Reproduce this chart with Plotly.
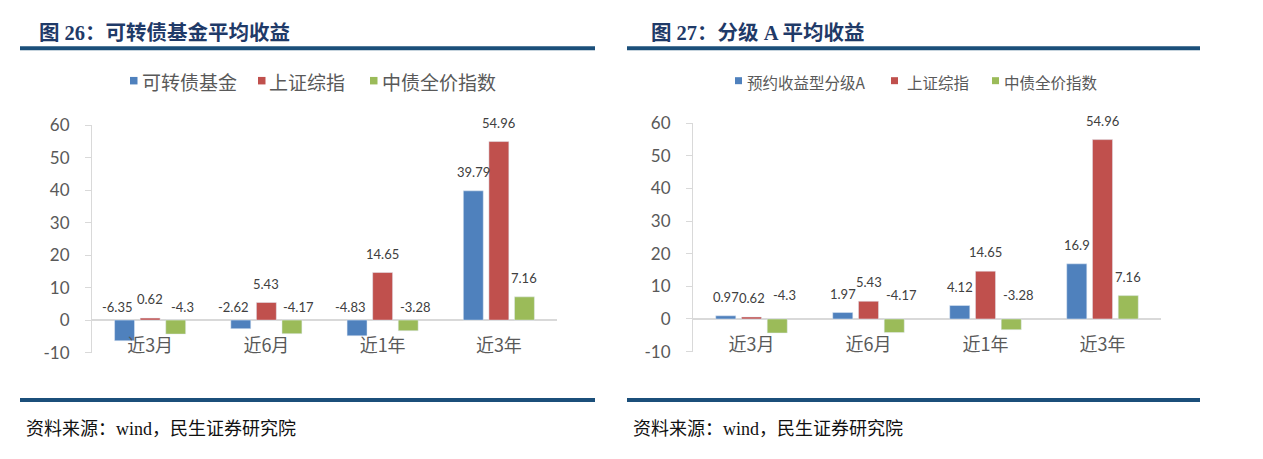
import plotly.graph_objects as go

W, H = 1263, 459

categories = ["近3月", "近6月", "近1年", "近3年"]

# Chart 26
left_series_names = ["可转债基金", "上证综指", "中债全价指数"]
left_convertible = [-6.35, -2.62, -4.83, 39.79]
left_shanghai = [0.62, 5.43, 14.65, 54.96]
left_bond = [-4.3, -4.17, -3.28, 7.16]

# Chart 27
right_series_names = ["预约收益型分级A", "上证综指", "中债全价指数"]
right_gradeA = [0.97, 1.97, 4.12, 16.9]
right_shanghai = [0.62, 5.43, 14.65, 54.96]
right_bond = [-4.3, -4.17, -3.28, 7.16]

y_ticks = [-10, 0, 10, 20, 30, 40, 50, 60]
y_tick_labels = ["-10", "0", "10", "20", "30", "40", "50", "60"]

colors = ["#4F81BD", "#C0504D", "#9BBB59"]
NAVY = "#1B4F7A"
TITLE_C = "#1F3A68"
GRAY_TXT = "#595959"
LBL_TXT = "#404040"
AX_C = "#D9D9D9"

BARGAP = 0.34
BARGROUPGAP = 0.22

# screenshot vertical mapping compensation
SY, OY = 0.9545, 10.3

def px_x(p):
    return p / W

def px_y(p):
    return 1 - ((p - OY) / SY) / H

left_dom = [px_x(92), px_x(557)]
right_dom = [px_x(693), px_x(1161)]
left_ydom = [px_y(352), px_y(124.5)]
right_ydom = [px_y(351), px_y(122.5)]

fig = go.Figure()

left_vals = [left_convertible, left_shanghai, left_bond]
right_vals = [right_gradeA, right_shanghai, right_bond]

for i, (name, vals) in enumerate(zip(left_series_names, left_vals)):
    fig.add_trace(go.Bar(x=categories, y=vals, name=name, marker_color=colors[i],
                         xaxis="x", yaxis="y", showlegend=False))
for i, (name, vals) in enumerate(zip(right_series_names, right_vals)):
    fig.add_trace(go.Bar(x=categories, y=vals, name=name, marker_color=colors[i],
                         xaxis="x2", yaxis="y2", showlegend=False))

annotations = []
shapes = []

def add_labels(series, xref, yref, dom, neg_shift):
    cat_px = (dom[1] - dom[0]) * W / len(categories)
    slot = cat_px * (1 - BARGAP) / 3
    for i, vals in enumerate(series):
        for c, v in zip(categories, vals):
            dx = (i - 1) * slot + ((i - 1) * 7 if v < 0 else 0)
            annotations.append(dict(
                x=c, y=max(v, 0), xref=xref, yref=yref,
                xshift=dx, yshift=(18 if v > 0 else neg_shift) / SY,
                text=f"{v:g}", showarrow=False, yanchor="middle",
                font=dict(family="Lato, Liberation Sans, sans-serif", size=13, color=LBL_TXT)))

add_labels(left_vals, "x", "y", left_dom, 13)
add_labels(right_vals, "x2", "y2", right_dom, 23)

# Legends (square swatch + text), drawn from the series names
def add_legend(names, sq_x, txt_x, yc, size, sq):
    for i, name in enumerate(names):
        shapes.append(dict(type="rect", xref="paper", yref="paper",
                           x0=px_x(sq_x[i]), x1=px_x(sq_x[i] + sq),
                           y0=px_y(yc + sq / 2), y1=px_y(yc - sq / 2),
                           fillcolor=colors[i], line=dict(width=0)))
        annotations.append(dict(x=px_x(txt_x[i]), y=px_y(yc + 1), xref="paper", yref="paper",
                                xanchor="left", yanchor="middle", showarrow=False, text=name,
                                font=dict(family="Noto Sans CJK SC", size=size, color=GRAY_TXT)))

add_legend(left_series_names, [130, 258, 370], [140, 267, 380], 80, 19, 7.5)
add_legend(right_series_names, [735, 891, 992], [745, 905, 1002], 80, 15.5, 7)

# Titles
serif = "Liberation Serif, Noto Sans CJK SC"
annotations.append(dict(x=px_x(37), y=px_y(32), xref="paper", yref="paper", xanchor="left",
                        yanchor="middle", showarrow=False, text="<b>图 26：可转债基金平均收益</b>",
                        font=dict(family=serif, size=20.5, color=TITLE_C)))
annotations.append(dict(x=px_x(649), y=px_y(32), xref="paper", yref="paper", xanchor="left",
                        yanchor="middle", showarrow=False, text="<b>图 27：分级 A 平均收益</b>",
                        font=dict(family=serif, size=20.5, color=TITLE_C)))
# Sources
for x0 in (24, 631):
    annotations.append(dict(x=px_x(x0), y=px_y(428), xref="paper", yref="paper", xanchor="left",
                            yanchor="middle", showarrow=False, text="资料来源：wind，民生证券研究院",
                            font=dict(family=serif, size=18, color="#111111")))

for (x0, x1) in ((20, 595), (627, 1200)):
    for yy in (47.5, 399.5):
        shapes.append(dict(type="line", xref="paper", yref="paper",
                           x0=px_x(x0), x1=px_x(x1), y0=px_y(yy), y1=px_y(yy),
                           line=dict(color=NAVY, width=4)))

def yaxis_cfg(dom, anchor):
    return dict(domain=dom, anchor=anchor, range=[-10, 60], tickvals=y_ticks,
                ticktext=y_tick_labels,
                showgrid=False, showline=True, linecolor=AX_C, linewidth=1,
                ticks="outside", ticklen=6, tickcolor=AX_C,
                zeroline=True, zerolinecolor=AX_C, zerolinewidth=2,
                tickfont=dict(family="Lato, Liberation Sans, sans-serif", size=17, color=GRAY_TXT),
                ticklabelstandoff=12, fixedrange=True)

zero_left = left_ydom[0] + (left_ydom[1] - left_ydom[0]) * (10 / 70)
zero_right = right_ydom[0] + (right_ydom[1] - right_ydom[0]) * (10 / 70)

def xaxis_cfg(dom, pos):
    return dict(domain=dom, anchor="free", position=pos, showline=False, ticks="",
                showgrid=False, zeroline=False,
                tickfont=dict(family="Noto Sans CJK SC", size=18, color=GRAY_TXT),
                ticklabelstandoff=13, fixedrange=True)

fig.update_layout(
    width=W, height=H, margin=dict(l=0, r=0, t=0, b=0),
    paper_bgcolor="white", plot_bgcolor="rgba(0,0,0,0)",
    barmode="group", bargap=BARGAP, bargroupgap=BARGROUPGAP,
    xaxis=xaxis_cfg(left_dom, zero_left),
    xaxis2=xaxis_cfg(right_dom, zero_right),
    yaxis=yaxis_cfg(left_ydom, "x"),
    yaxis2=yaxis_cfg(right_ydom, "x2"),
    showlegend=False,
    annotations=annotations, shapes=shapes,
    hovermode=False,
)

fig.write_html("out.html", config={"displayModeBar": False},
               post_script="document.body.style.margin='0';document.body.style.overflow='hidden';")
